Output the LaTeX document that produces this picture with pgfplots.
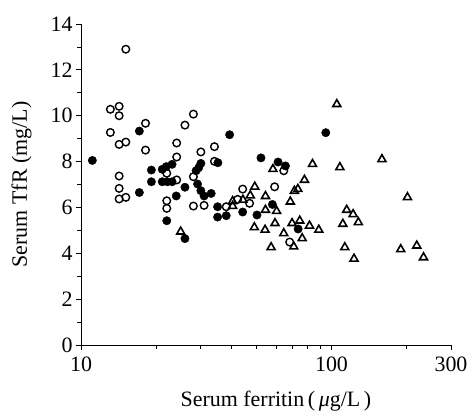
\documentclass[border=0pt]{standalone}
\usepackage{fontspec}
\setmainfont{Liberation Serif}
\usepackage{pgfplots}
\pgfplotsset{compat=1.18}

\begin{document}
\begin{tikzpicture}
\begin{axis}[
  scale only axis, width=370bp, height=321bp,
  xmode=log, log basis x=10,
  xmin=10, xmax=300, ymin=0, ymax=14,
  axis x line*=bottom, axis y line*=left,
  xtick={10,100,300}, xticklabels={10,100,300},
  minor xtick={20,30,40,50,60,70,80,90,200},
  ytick={0,2,...,14}, minor ytick={1,3,...,13},
  tick align=outside, major tick length=5bp, minor tick length=4bp,
  tick style={black, line width=0.8bp},
  axis line style={black, line width=0.8bp},
  /pgf/number format/assume math mode=true,
  tick label style={font=\fontsize{22}{26}\selectfont},
  xticklabel style={yshift=-3bp},
  label style={font=\fontsize{22}{26}\selectfont},
  xlabel={Serum ferritin\,(\,\textit{μ}g/L\,)},
  ylabel={Serum TfR (mg/L)},
  xlabel style={yshift=-13bp, xshift=10bp},
  ylabel style={yshift=12bp},
  clip=false,
]
% filled circles
\addplot[only marks, mark=*, mark size=4.2bp, black] coordinates {
(11.1,8.05) (17.1,9.33) (17.1,6.65) (19.1,7.63) (19.1,7.12) (21.1,7.66)
(21.1,7.12) (21.9,7.78) (23.1,7.88) (22.1,7.12) (23.1,7.12) (26.0,6.88)
(24.0,6.5) (22.0,5.42) (26.0,4.64) (39.2,9.17) (35.2,7.95) (30.1,7.92)
(29.5,7.73) (28.8,7.6) (29.2,7.02) (30.1,6.73) (31.0,6.5) (33.1,6.61)
(35.1,6.03) (35.1,5.58) (38.0,5.64) (44.2,5.8) (50.4,5.67) (52.3,8.16)
(61.2,7.98) (65.5,7.81) (58.1,6.13) (73.6,5.06) (94.9,9.26)
};
% open circles
\addplot[only marks, mark=o, mark size=3.8bp, line width=1.4bp, black] coordinates {
(15.1,12.9) (13.1,10.28) (14.2,10.41) (14.2,10.0) (13.1,9.27) (18.1,9.67)
(14.2,8.75) (15.1,8.85) (18.1,8.5) (26.0,9.59) (28.1,10.07) (24.1,8.81)
(24.1,8.2) (14.2,7.37) (14.2,6.83) (14.2,6.37) (15.1,6.44) (22.0,7.49)
(24.1,7.2) (22.0,6.29) (22.0,5.96) (30.1,8.42) (34.1,8.65) (34.1,8.01)
(28.1,7.34) (28.1,6.06) (31.0,6.09) (38.0,6.03) (42.2,6.35) (44.2,6.8)
(47.1,6.18) (59.3,6.9) (64.5,7.6) (68.1,4.49)
};
% open triangles
\addplot[only marks, mark=triangle, mark size=4.6bp, line width=1.6bp, black] coordinates {
(25.0,4.94) (40.3,6.27) (40.3,6.06) (44.3,6.33) (47.4,6.52) (49.4,6.9)
(54.5,6.49) (54.5,5.89) (60.4,5.84) (59.5,5.31) (49.2,5.13) (54.3,5.02)
(64.5,4.87) (57.4,4.26) (70.7,4.29) (76.4,4.65) (69.6,5.31) (74.7,5.42)
(81.7,5.2) (89.0,5.02) (68.5,6.25) (71.1,6.72) (73.4,6.8) (78.0,7.2)
(84.0,7.89) (58.4,7.67) (105,10.5) (108,7.75) (159,8.1) (115,5.89)
(122,5.7) (128,5.35) (111,5.28) (113,4.26) (123,3.76) (201,6.44)
(189,4.17) (219,4.33) (233,3.82)
};
\end{axis}
\pgfresetboundingbox
\path[use as bounding box] (-81bp,-66bp) rectangle (387bp,345bp);
\end{tikzpicture}
\end{document}
